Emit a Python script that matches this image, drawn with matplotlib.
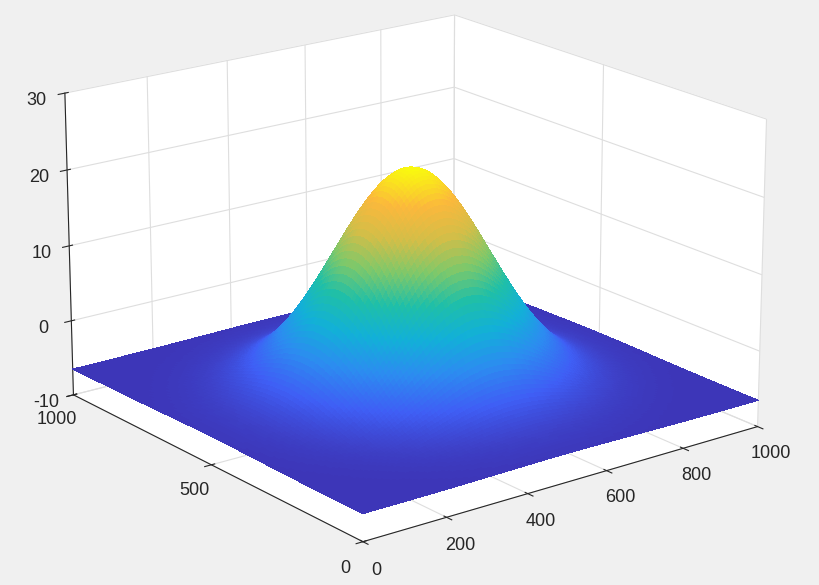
import numpy as np
import matplotlib
matplotlib.use("Agg")
import matplotlib.pyplot as plt
from matplotlib.colors import LinearSegmentedColormap

# Surface parameters (Gaussian bump)
grid_x = np.linspace(0, 1000, 121)
grid_y = np.linspace(0, 1000, 121)
base_level = -6.5
peak_height = 28.5
center_x, center_y = 500, 500
sigma = 160
xticks = [0, 200, 400, 600, 800, 1000]
yticks = [0, 500, 1000]
zticks = [-10, 0, 10, 20, 30]

X, Y = np.meshgrid(grid_x, grid_y)
Z = base_level + peak_height * np.exp(-((X - center_x)**2 + (Y - center_y)**2) / (2 * sigma**2))

plt.rcParams["font.family"] = ["Liberation Sans", "DejaVu Sans"]
plt.rcParams["axes.unicode_minus"] = False

parula = LinearSegmentedColormap.from_list("parula", [
    "#3d36b8", "#3f5ef5", "#2c8cf0", "#12b0d8", "#1fbfa8",
    "#7ec86a", "#d2be48", "#fbb83c", "#f9f80f"])

fig = plt.figure(figsize=(8.2, 5.85), dpi=100, facecolor="#f0f0f0")
ax = fig.add_axes([-0.09, -0.1, 1.16, 1.276], projection="3d")
ax.set_facecolor("#f0f0f0")
ax.plot_surface(X, Y, Z, cmap=parula, rstride=1, cstride=1, linewidth=0,
                antialiased=False, shade=False)
ax.view_init(elev=18.5, azim=-127.5)
ax.set_xlim(0, 1000); ax.set_ylim(0, 1000); ax.set_zlim(-10, 30)
ax.set_xticks(xticks); ax.set_yticks(yticks); ax.set_zticks(zticks)
for a in (ax.xaxis, ax.yaxis, ax.zaxis):
    a.set_pane_color((1, 1, 1, 1))
    a._axinfo["grid"]["color"] = (0.87, 0.87, 0.87, 1)
    a._axinfo["grid"]["linewidth"] = 0.8
    a.line.set_color("#262626")
ax.tick_params(labelsize=13, colors="#262626")
ax.set_box_aspect((1, 1, 0.65))
fig.savefig("out.png", dpi=100, facecolor="#f0f0f0")
